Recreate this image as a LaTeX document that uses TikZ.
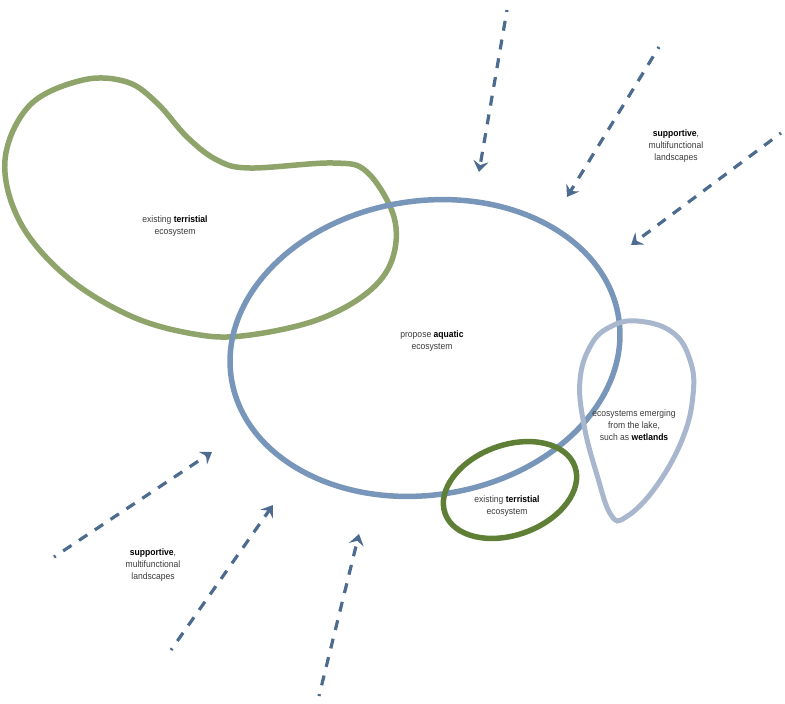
\documentclass[tikz,border=0pt]{standalone}
\usepackage{fontspec}
\setmainfont[FakeStretch=0.92]{Liberation Sans}
\usepackage{tikz}
\usetikzlibrary{arrows.meta, calc, positioning}
\definecolor{lakeblue}{HTML}{7896BA}
\definecolor{wetblue}{HTML}{A8B7CD}
\definecolor{olive}{HTML}{8FA46B}
\definecolor{darkolive}{HTML}{5F7F36}
\definecolor{flowblue}{HTML}{4C6B8E}
\definecolor{txtgray}{HTML}{3A3A3A}

\begin{document}
\begin{tikzpicture}[x=1pt,y=-1pt,
label/.style={align=center,font=\fontsize{9.3}{12}\selectfont,text=txtgray,inner sep=1pt},
zone/.style={line width=5.5pt},
flow/.style={line width=3.2pt,flowblue,dash pattern=on 10pt off 9pt,dash phase=8pt,
  -{Stealth[length=11pt,width=15pt,inset=4pt]}}]
 \useasboundingbox (0,0) rectangle (785,704);
 % existing land, top left
 \draw[zone,olive] plot[smooth cycle,tension=0.6] coordinates {(5,160) (30,105) (83,80) (127,82)
  (157,103) (187,137) (217,160) (250,168) (333,163) (367,172) (394,217) (392,260) (367,293)
  (317,320) (250,335) (200,335) (133,317) (67,277) (20,222)};
 % lake
 \draw[zone,lakeblue,rotate around={9:(425,348)}] (425,348) ellipse [x radius=196, y radius=147];
 % wetlands
 \draw[line width=5pt,wetblue] plot[smooth cycle,tension=0.7] coordinates {(637,321) (672,332)
  (690,360) (693,395) (682,440) (655,488) (626,517) (611,515) (597,475) (584,425) (580,380)
  (591,345) (610,327)};
 % existing land, small
 \draw[zone,darkolive,rotate around={20:(510,490)}] (510,490) ellipse [x radius=69, y radius=45];

 \node[label] (land1) at (175,226) {existing \textbf{\color{black}terristial}\\ecosystem};
 \node[label] (lake) at (432,341) {propose \textbf{\color{black}aquatic}\\ecosystem};
 \node[label] (wet) at (634,425) {ecosystems emerging\\from the lake,\\such as \textbf{\color{black}wetlands}};
 \node[label] (land2) at (507,506) {existing \textbf{\color{black}terristial}\\ecosystem};
 \node[label] (sup1) at (676,146) {\textbf{\color{black}supportive},\\multifunctional\\landscapes};
 \node[label] (sup2) at (153,565) {\textbf{\color{black}supportive},\\multifunctional\\landscapes};

 % flows towards the lake
 \coordinate (s1) at (507,10);  \coordinate (e1) at (479,172);
 \coordinate (s2) at (659,47);  \coordinate (e2) at (567,197);
 \coordinate (s3) at (781,133); \coordinate (e3) at (631,245);
 \coordinate (s4) at (54,557);  \coordinate (e4) at (212,452);
 \coordinate (s5) at (171,650); \coordinate (e5) at (273,505);
 \coordinate (s6) at (319,696); \coordinate (e6) at (359,534);
 \foreach \X in {1,...,6}
  \draw[flow] (s\X) -- (e\X);
\end{tikzpicture}
\end{document}
